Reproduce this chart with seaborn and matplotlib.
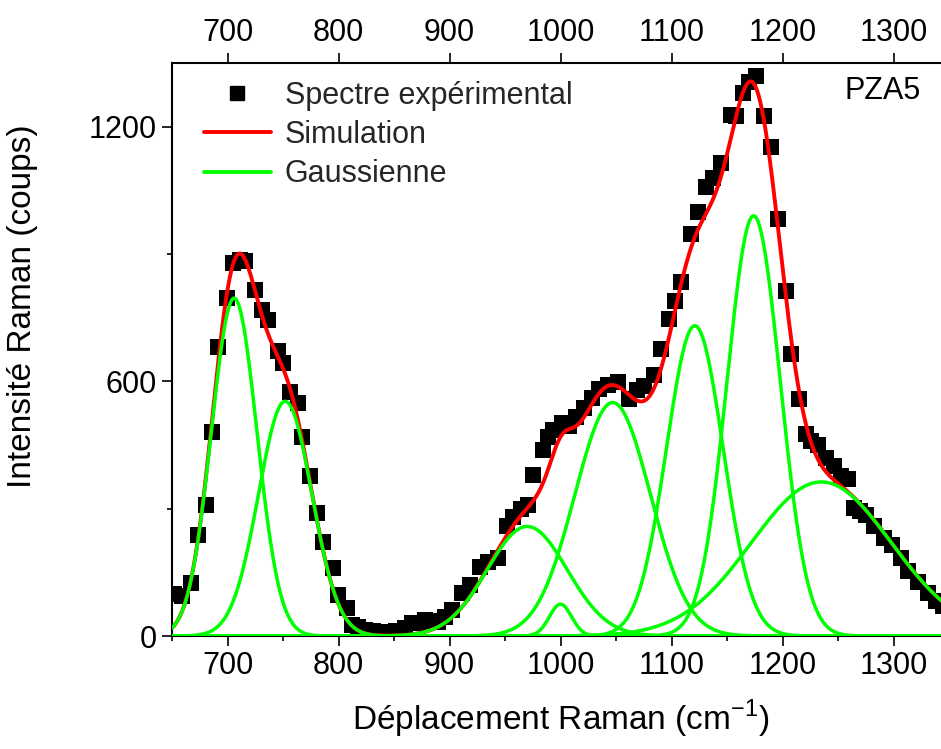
import numpy as np
import pandas as pd
import seaborn as sns
import matplotlib
matplotlib.use("Agg")
import matplotlib.pyplot as plt
from matplotlib.ticker import MultipleLocator
from matplotlib.lines import Line2D

exp_x = [652, 659, 667, 673.7, 680.3, 686.3, 691.7, 699.3, 705.2, 711, 715.8, 724.8, 730.8,
         736.8, 745.8, 750.3, 756.3, 763.8, 766.8, 774.3, 780.4, 786.3, 795.3, 799.8, 807.4,
         811.9, 818, 824, 831, 838, 845, 852, 860, 866, 872, 878, 884, 890, 896, 902, 911,
         918.5, 927.5, 935, 944, 951.5, 957.5, 964, 971, 975.5, 984.5, 988.5, 993.5, 1001,
         1008, 1014, 1021.5, 1028, 1035, 1043, 1051.5, 1062, 1069, 1075.5, 1084.5, 1090.5,
         1098, 1103, 1108.6, 1117.6, 1124, 1131, 1137, 1144.6, 1153.6, 1158, 1164, 1170,
         1176, 1183.6, 1189.6, 1195.7, 1203, 1207.7, 1215, 1221, 1226, 1231.7, 1239, 1246,
         1252.7, 1258.7, 1264.7, 1270, 1275, 1282.7, 1291.7, 1299, 1306.8, 1312.8, 1321.8,
         1330.8, 1338, 1345]
exp_y = [100, 95, 125, 238, 309, 480, 681, 796, 879, 885, 883, 816, 769,
         745, 671, 643, 576, 549, 470, 376, 289, 222, 160, 97, 65,
         26, 22, 14, 12, 10, 10, 12, 18, 30, 30, 38, 36, 34, 45, 61, 101,
         120, 163, 175, 183, 258, 281, 300, 309, 380, 439, 470, 486, 502,
         494, 515, 538, 560, 581, 592, 599, 559, 580, 590, 616, 677,
         747, 790, 834, 948, 1000, 1057, 1080, 1114, 1227, 1225, 1280, 1305,
         1319, 1224, 1153, 983, 813, 664, 559, 476, 460, 450, 420, 400,
         376, 371, 302, 295, 284, 258, 232, 214, 184, 153, 127,
         101, 83, 70]

# gaussian components: centre, height, sigma
g_centre = [706, 752, 970, 1000, 1047, 1121, 1174, 1235]
g_height = [796, 553, 258, 75, 550, 731, 990, 363]
g_sigma = [20.5, 24, 36, 10, 34, 25.5, 24, 63]

x_grid = np.linspace(650, 1350, 1401)
comps = [h * np.exp(-(x_grid - c) ** 2 / (2 * s ** 2))
         for c, h, s in zip(g_centre, g_height, g_sigma)]
simulation = np.sum(comps, axis=0)

sns.set_theme(style="white")
plt.rcParams['font.family'] = ['Liberation Sans', 'DejaVu Sans']
plt.rcParams['mathtext.fontset'] = 'custom'
plt.rcParams['mathtext.rm'] = 'Liberation Sans'

fig = plt.figure(figsize=(9.41, 7.49), dpi=100)
ax = fig.add_axes([172 / 941, 1 - 636 / 749, 777 / 941, 573 / 749])

sns.lineplot(x=x_grid, y=simulation, color='#FF0000', lw=2.8, ax=ax, zorder=2)
for comp in comps:
    sns.lineplot(x=x_grid, y=comp, color='#00FF00', lw=2.5, ax=ax, zorder=3)
sns.scatterplot(x=exp_x, y=exp_y, marker='s', color='black', s=125, linewidth=0,
                ax=ax, zorder=1)

ax.set_xlim(650, 1350)
ax.set_ylim(0, 1350)
ax.xaxis.set_major_locator(MultipleLocator(100))
ax.xaxis.set_minor_locator(MultipleLocator(50))
ax.yaxis.set_major_locator(MultipleLocator(600))
ax.yaxis.set_minor_locator(MultipleLocator(300))

for sp in ax.spines.values():
    sp.set_color('black')
    sp.set_linewidth(1.5)
ax.spines['right'].set_visible(False)

ax.tick_params(which='major', direction='out', length=7, width=1.2, labelsize=22,
               colors='black', pad=4)
ax.tick_params(which='minor', direction='out', length=3.5, width=1.2, colors='black')
ax.tick_params(axis='x', which='both', bottom=True, top=True, labeltop=True)
ax.tick_params(axis='x', which='minor', top=False)
ax.tick_params(axis='y', which='both', left=True, right=False)

ax.set_xlabel(r'Déplacement Raman (cm$^{\mathregular{-1}}$)', fontsize=24, color='black')
ax.set_ylabel('Intensité Raman (coups)', fontsize=24, color='black')
ax.xaxis.set_label_coords(0.5, -0.108)
ax.yaxis.set_label_coords(-0.172, 0.575)

handles = [Line2D([], [], marker='s', color='black', ls='none', markersize=10),
           Line2D([], [], color='#FF0000', lw=2.8),
           Line2D([], [], color='#00FF00', lw=2.8)]
ax.legend(handles, ['Spectre expérimental', 'Simulation', 'Gaussienne'],
          loc='upper left', bbox_to_anchor=(0.025, 0.99), frameon=False,
          fontsize=22, handlelength=2.2, handletextpad=0.45, labelspacing=0.3,
          borderaxespad=0)
ax.text(0.915, 0.952, 'PZA5', transform=ax.transAxes, fontsize=22,
        ha='center', va='center', color='black')

fig.savefig('out.png', dpi=100)
